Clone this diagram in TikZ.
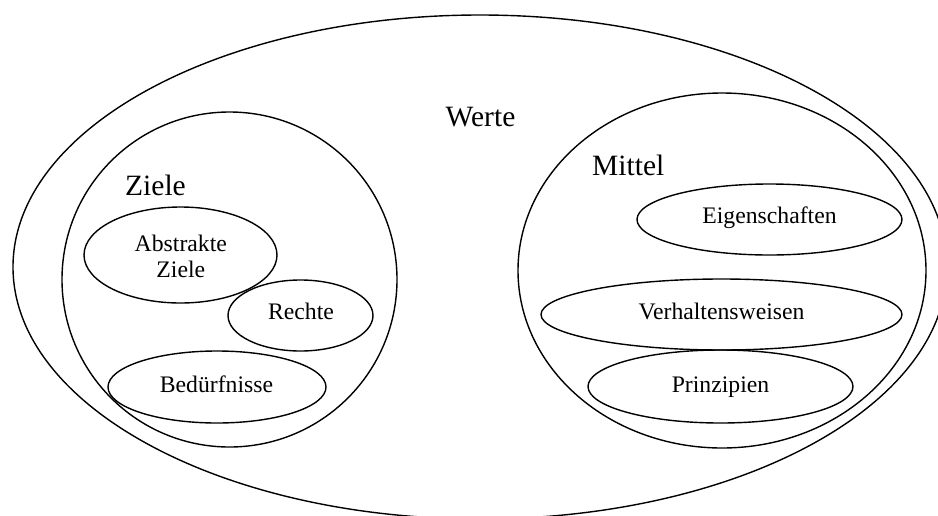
\documentclass[tikz,border=0pt]{standalone}
\usepackage{fontspec}
\setmainfont{Liberation Serif}
\usetikzlibrary{shapes.geometric}
\begin{document}
\begin{tikzpicture}[x=1pt,y=-1pt,
  oval/.style={draw,ellipse,line width=1.4pt,inner sep=0pt},
  bigtext/.style={inner sep=0pt,font=\fontsize{29.5}{34}\selectfont},
  smalltext/.style={inner sep=0pt,anchor=base,font=\fontsize{23.7}{26}\selectfont}]
  \clip (0,0) rectangle (938,515);
  \fill[white] (0,0) rectangle (938,515);

  % outer set and its two subsets
  \node[oval,minimum width=934pt,minimum height=504pt] (werte) at (480,267) {};
  \node[oval,minimum width=335pt,minimum height=335pt] (ziele) at (229.5,279.5) {};
  \node[oval,minimum width=408pt,minimum height=355pt] (mittel) at (722,270.5) {};

  % members of "Ziele"
  \node[oval,minimum width=193pt,minimum height=96pt] (abstrakt) at (180.5,255) {};
  \node[oval,minimum width=145pt,minimum height=71pt] (rechte) at (300.5,315.5) {};
  \node[oval,minimum width=218pt,minimum height=72pt] (beduerf) at (217,387) {};

  % members of "Mittel"
  \node[oval,minimum width=265pt,minimum height=71pt] (eigen) at (769.5,219.5) {};
  \node[oval,minimum width=361pt,minimum height=71pt] (verhalten) at (721.5,314.5) {};
  \node[oval,minimum width=265pt,minimum height=73pt] (prinz) at (720.5,386.5) {};

  % headings
  \node[bigtext,anchor=base] (twerte) at (480.5,126) {Werte};
  \node[bigtext,anchor=base west] (tziele) at (125,195) {Ziele};
  \node[bigtext,anchor=base west] (tmittel) at (592,175) {Mittel};

  % labels inside the ovals
  \node[smalltext] (tabs1) at (180.8,251) {Abstrakte};
  \node[smalltext] (tabs2) at (180.8,277) {Ziele};
  \node[smalltext] (trechte) at (301,319) {Rechte};
  \node[smalltext] (tbed) at (216.5,392) {Bedürfnisse};
  \node[smalltext] (teigen) at (769.5,223) {Eigenschaften};
  \node[smalltext] (tverh) at (721.5,319) {Verhaltensweisen};
  \node[smalltext] (tprinz) at (720.5,392) {Prinzipien};
\end{tikzpicture}
\end{document}
